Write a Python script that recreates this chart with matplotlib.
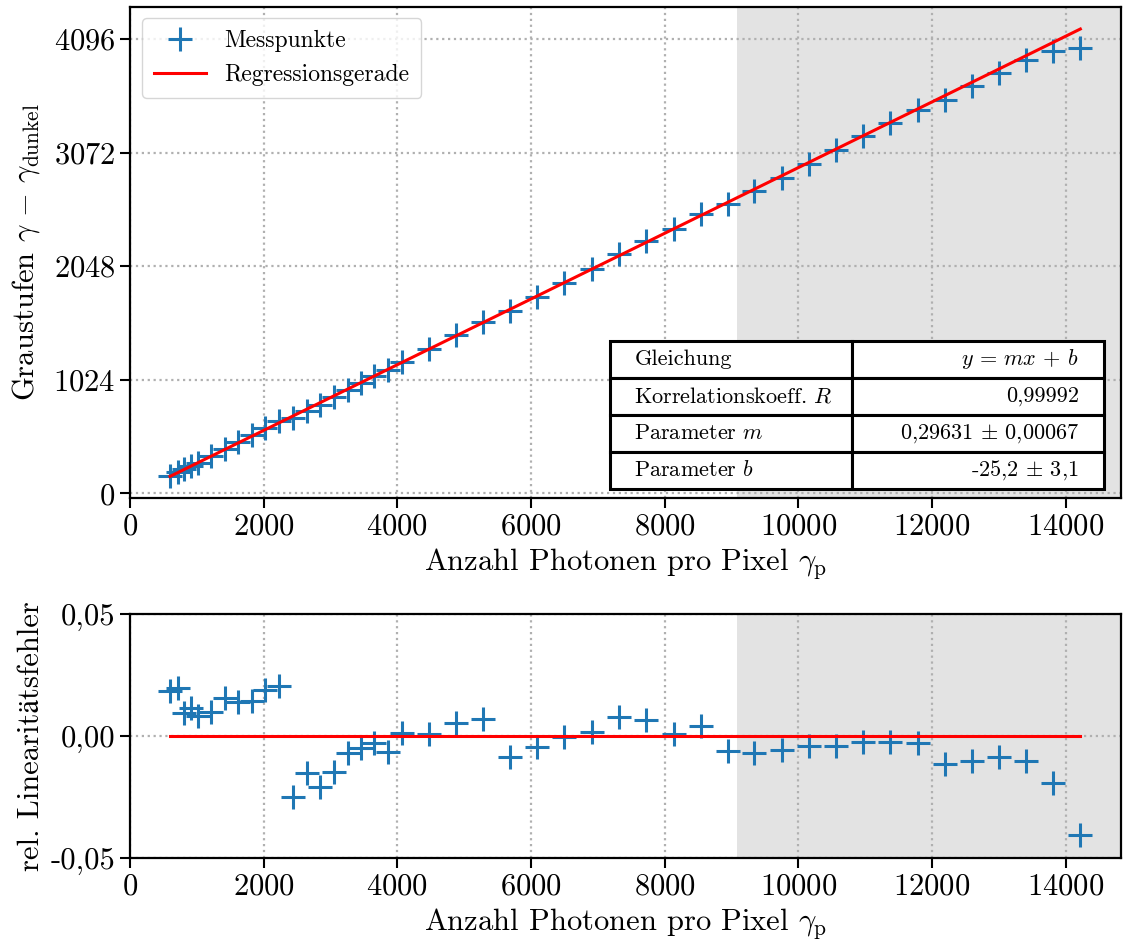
import matplotlib
matplotlib.use('Agg')
import matplotlib.pyplot as plt
from matplotlib.ticker import FixedLocator, FuncFormatter
from matplotlib.table import Table

plt.rcParams['font.family'] = ['cmr10', 'STIXGeneral']
plt.rcParams['mathtext.fontset'] = 'cm'
plt.rcParams['axes.formatter.use_mathtext'] = True
plt.rcParams['axes.unicode_minus'] = False

# Messdaten
photonen = [599, 712, 812, 907, 1012, 1212, 1422, 1621, 1826, 2025, 2234, 2433,
            2643, 2843, 3047, 3256, 3457, 3656, 3855, 4064, 4468, 4878, 5276,
            5686, 6090, 6499, 6907, 7311, 7721, 8137, 8541, 8942, 9342, 9750,
            10154, 10564, 10973, 11377, 11785, 12195, 12599, 13008, 13407,
            13816, 14220]
grauwerte = [155.1, 189.4, 217.4, 246.4, 277.0, 337.1, 402.3, 461.4, 523.3,
             585.7, 649.9, 678.2, 746.7, 800.0, 864.9, 933.0, 994.1, 1055.3,
             1110.1, 1180.8, 1299.7, 1427.7, 1548.9, 1645.5, 1771.3, 1899.6,
             2025.2, 2157.7, 2277.8, 2387.8, 2516.1, 2608.7, 2724.5, 2847.5,
             2971.6, 3092.6, 3219.1, 3338.5, 3457.8, 3547.0, 3670.5, 3795.9,
             3907.6, 3990.2, 4018.3]
lin_fehler = [0.0183, 0.0196, 0.0094, 0.0115, 0.0083, 0.0097, 0.0155, 0.0138,
              0.0143, 0.0190, 0.0206, -0.0251, -0.0149, -0.0210, -0.0146,
              -0.0070, -0.0050, -0.0026, -0.0063, 0.0015, 0.0008, 0.0053,
              0.0070, -0.0085, -0.0045, -0.0005, 0.0019, 0.0077, 0.0067,
              0.0008, 0.0042, -0.0060, -0.0067, -0.0057, -0.0040, -0.0040,
              -0.0022, -0.0022, -0.0026, -0.0115, -0.0101, -0.0087, -0.0101,
              -0.0193, -0.0406]

# Fitparameter
m = 0.29631
b = -25.2
sattigung_start = 9080
x_max = 14830

tabelle = [['Gleichung', r'$y\,=\,mx\,+\,b$'],
           ['Korrelationskoeff. $R$', '0,99992'],
           ['Parameter $m$', r'0,29631 $\pm$ 0,00067'],
           ['Parameter $b$', r'-25,2 $\pm$ 3,1']]

fig = plt.figure(figsize=(11.23, 9.52), dpi=100)
ax1 = fig.add_axes([0.1158, 0.4766, 0.8825, 0.5164])
ax2 = fig.add_axes([0.1158, 0.0984, 0.8825, 0.2566])

x_fit = [photonen[0], photonen[-1]]
y_fit = [m * x + b for x in x_fit]

for ax in (ax1, ax2):
    ax.axvspan(sattigung_start, x_max, color='#e3e3e3', lw=0, zorder=0)
    ax.grid(True, linestyle=':', color='#b0b0b0', linewidth=1.6)
    ax.set_xlim(0, x_max)
    ax.tick_params(labelsize=22, length=7, width=1.5)
    for s in ax.spines.values():
        s.set_linewidth(1.6)

ax1.plot(photonen, grauwerte, '+', color='#1f77b4', markersize=17,
         markeredgewidth=2.2, label='Messpunkte', zorder=3)
ax1.plot(x_fit, y_fit, color='red', linewidth=2.2, label='Regressionsgerade', zorder=4)
ax1.set_ylim(-45, 4390)
ax1.yaxis.set_major_locator(FixedLocator([0, 1024, 2048, 3072, 4096]))
ax1.set_xlabel(r'Anzahl Photonen pro Pixel $\gamma_{\mathrm{p}}$', fontsize=22)
ax1.set_ylabel(r'Graustufen $\gamma\,-\,\gamma_{\mathrm{dunkel}}$', fontsize=22,
               labelpad=8)
ax1.legend(loc='upper left', fontsize=17, handlelength=2.2, borderpad=0.5)

tab = Table(ax1, bbox=[0.4844, 0.019, 0.4985, 0.301])
for i, (links, rechts) in enumerate(tabelle):
    c = tab.add_cell(i, 0, width=0.49, height=0.25, text=links, loc='left')
    c.set_linewidth(2.2)
    c.get_text().set_fontsize(16)
    c = tab.add_cell(i, 1, width=0.51, height=0.25, text=rechts, loc='right')
    c.set_linewidth(2.2)
    c.get_text().set_fontsize(16)
tab.auto_set_font_size(False)
tab.set_zorder(5)
ax1.add_table(tab)

ax2.plot(photonen, lin_fehler, '+', color='#1f77b4', markersize=17,
         markeredgewidth=2.2, zorder=3)
ax2.plot(x_fit, [0, 0], color='red', linewidth=2.2, zorder=4)
ax2.set_ylim(-0.05, 0.05)
ax2.yaxis.set_major_locator(FixedLocator([-0.05, 0.0, 0.05]))
ax2.yaxis.set_major_formatter(FuncFormatter(lambda v, p: f'{v:.2f}'.replace('.', ',')))
ax2.set_xlabel(r'Anzahl Photonen pro Pixel $\gamma_{\mathrm{p}}$', fontsize=22)
ax2.set_ylabel('rel. Linearitätsfehler', fontsize=22)

fig.savefig('out.png', dpi=100)
